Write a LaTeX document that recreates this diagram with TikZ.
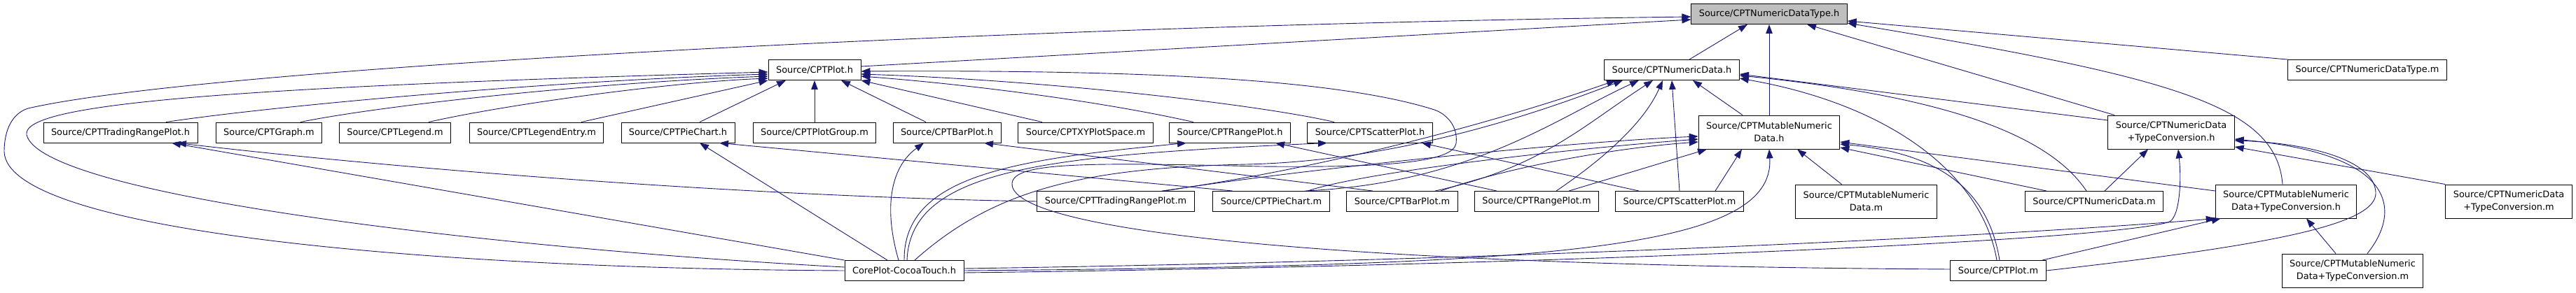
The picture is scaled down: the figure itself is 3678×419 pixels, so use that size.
\documentclass[tikz,border=0pt]{standalone}
\usepackage{fontspec}
\setmainfont{DejaVu Sans}
\usetikzlibrary{arrows.meta}
\definecolor{edgeblue}{RGB}{25,25,112}
\definecolor{rootgray}{RGB}{191,191,191}
\tikzset{
  filebox/.style={draw=black, line width=0.9pt, fill=white, align=center,
                  minimum height=29pt, inner xsep=11pt, inner ysep=0pt,
                  font=\fontsize{12.9}{18}\selectfont},
  twoline/.style={filebox, minimum height=48pt},
  rootbox/.style={filebox, fill=rootgray},
  incl/.style={-{Triangle[length=13pt,width=9.5pt]}, line width=0.9pt, draw=edgeblue},
}

\begin{document}
\begin{tikzpicture}[x=1pt, y=-1pt]
  \useasboundingbox (0,0) rectangle (3678,419);

  % the header itself
  \node[rootbox] (ntype) at (2526,20) {Source/CPTNumericDataType.h};

  % first row
  \node[filebox] (ploth) at (1163,100) {Source/CPTPlot.h};
  \node[filebox] (ndh) at (2387,100) {Source/CPTNumericData.h};
  \node[filebox] (ntypem) at (3380,100) {Source/CPTNumericDataType.m};

  % second row
  \node[filebox] (trph) at (172,189.5) {Source/CPTTradingRangePlot.h};
  \node[filebox] (graphm) at (384,189.5) {Source/CPTGraph.m};
  \node[filebox] (legendm) at (564,189.5) {Source/CPTLegend.m};
  \node[filebox] (entrym) at (766,189.5) {Source/CPTLegendEntry.m};
  \node[filebox] (pieh) at (968,189.5) {Source/CPTPieChart.h};
  \node[filebox] (groupm) at (1163,189.5) {Source/CPTPlotGroup.m};
  \node[filebox] (barh) at (1352,189.5) {Source/CPTBarPlot.h};
  \node[filebox] (spacem) at (1550,189.5) {Source/CPTXYPlotSpace.m};
  \node[filebox] (rangeh) at (1756,189.5) {Source/CPTRangePlot.h};
  \node[filebox] (scath) at (1956,189.5) {Source/CPTScatterPlot.h};
  \node[twoline] (mndh) at (2526,189) {Source/CPTMutableNumeric\\Data.h};
  \node[twoline] (ndtch) at (3100,189) {Source/CPTNumericData\\+TypeConversion.h};

  % third row
  \node[filebox] (trpm) at (1593,288) {Source/CPTTradingRangePlot.m};
  \node[filebox] (piem) at (1815,288) {Source/CPTPieChart.m};
  \node[filebox] (barm) at (2002,288) {Source/CPTBarPlot.m};
  \node[filebox] (rangem) at (2194,288) {Source/CPTRangePlot.m};
  \node[filebox] (scatm) at (2398,288) {Source/CPTScatterPlot.m};
  \node[twoline] (mndm) at (2664.5,288) {Source/CPTMutableNumeric\\Data.m};
  \node[filebox] (ndm) at (2990,288) {Source/CPTNumericData.m};
  \node[twoline] (mndtch) at (3264,288) {Source/CPTMutableNumeric\\Data+TypeConversion.h};
  \node[twoline] (ndtcm) at (3582,288) {Source/CPTNumericData\\+TypeConversion.m};

  % bottom row
  \node[filebox] (cocoa) at (1291,387) {CorePlot-CocoaTouch.h};
  \node[filebox] (plotm) at (2853,387) {Source/CPTPlot.m};
  \node[twoline] (mndtcm) at (3359,387) {Source/CPTMutableNumeric\\Data+TypeConversion.m};

  % into CPTNumericDataType.h
  \draw[incl] ([yshift=5pt]ploth.east) -- ([yshift=-8pt]ntype.west);
  \draw[incl] (cocoa.west) .. controls (600,384) and (10,330) .. (6,217)
      .. controls (6,185) and (18,162) .. (40,155)
      .. controls (300,95) and (1500,35) .. ([yshift=-4pt]ntype.west);
  \draw[incl] ([xshift=25pt]ndh.north) -- ([xshift=-31pt]ntype.south);
  \draw[incl] (mndh.north) -- (ntype.south);
  \draw[incl] ([xshift=-81pt]ndtch.north) -- ([xshift=54pt]ntype.south);
  \draw[incl] (ntypem.north west) -- ([yshift=-10pt]ntype.east);
  \draw[incl] ([xshift=-5pt]mndtch.north) .. controls (3250,150) and (3100,110) .. ([yshift=-13pt]ntype.east);

  % into CPTPlot.h
  \draw[incl] ([xshift=65pt]trph.north) .. controls (400,150) and (800,115) .. ([yshift=-6pt]ploth.west);
  \draw[incl] ([xshift=45pt]graphm.north) .. controls (550,150) and (850,118) .. ([yshift=-9pt]ploth.west);
  \draw[incl] ([xshift=48pt]legendm.north) .. controls (720,150) and (950,118) .. ([yshift=-12pt]ploth.west);
  \draw[incl] ([xshift=64pt]entrym.north) -- (ploth.south west);
  \draw[incl] ([xshift=31pt]pieh.north) -- ([xshift=-41pt]ploth.south);
  \draw[incl] (groupm.north) -- (ploth.south);
  \draw[incl] ([xshift=-30pt]barh.north) -- ([xshift=38pt]ploth.south);
  \draw[incl] ([xshift=-62pt]spacem.north) -- (ploth.south east);
  \draw[incl] ([xshift=-52pt]rangeh.north) .. controls (1550,140) and (1350,118) .. ([yshift=-9pt]ploth.east);
  \draw[incl] ([xshift=-51pt]scath.north) .. controls (1800,150) and (1500,115) .. ([yshift=-6pt]ploth.east);
  \draw[incl] ([yshift=5pt]cocoa.west) .. controls (700,355) and (60,280) .. (38,193)
      .. controls (30,150) and (300,125) .. ([yshift=-3pt]ploth.west);
  \draw[incl] ([yshift=2pt]plotm.west) .. controls (1900,380) and (1440,330) .. (1445,262)
      .. controls (1448,232) and (1550,232) .. (1800,238)
      .. controls (1980,240) and (2075,232) .. (2079,205)
      .. controls (2082,180) and (2065,163) .. (2048,157)
      .. controls (1900,110) and (1600,100) .. ([yshift=-2pt]ploth.east);

  % into the plot headers
  \draw[incl] (trpm.west) .. controls (1100,282) and (600,245) .. ([xshift=81pt]trph.south);
  \draw[incl] (cocoa.north west) -- ([xshift=73pt]trph.south);
  \draw[incl] ([xshift=-55pt]piem.north) -- ([xshift=59pt]pieh.south);
  \draw[incl] ([xshift=-24pt]cocoa.north) -- ([xshift=31pt]pieh.south);
  \draw[incl] ([xshift=-42pt]barm.north) -- ([xshift=53pt]barh.south);
  \draw[incl] ([xshift=-8pt]cocoa.north) .. controls (1262,300) and (1270,240) .. ([xshift=-33pt]barh.south);
  \draw[incl] ([xshift=-57pt]rangem.north) -- ([xshift=65pt]rangeh.south);
  \draw[incl] (cocoa.north) .. controls (1290,250) and (1450,228) .. ([xshift=-62pt]rangeh.south);
  \draw[incl] ([xshift=-58pt]scatm.north) -- ([xshift=74pt]scath.south);
  \draw[incl] ([xshift=4pt]cocoa.north) .. controls (1300,240) and (1500,222) .. ([xshift=-61pt]scath.south);

  % into CPTNumericData.h
  \draw[incl] ([xshift=-38pt]mndh.north) -- ([xshift=30pt]ndh.south);
  \draw[incl] (scatm.north) -- (ndh.south);
  \draw[incl] ([xshift=28pt]rangem.north) .. controls (2300,220) and (2350,170) .. ([xshift=-13pt]ndh.south);
  \draw[incl] ([xshift=47pt]barm.north) .. controls (2200,240) and (2260,180) .. ([xshift=-27pt]ndh.south);
  \draw[incl] ([xshift=48pt]piem.north) .. controls (2100,262) and (2220,170) .. ([xshift=-47pt]ndh.south);
  \draw[incl] ([xshift=66pt]trpm.north) .. controls (1900,240) and (2150,170) .. ([xshift=-80pt]ndh.south);
  \draw[incl] ([xshift=15pt]cocoa.north) .. controls (1420,270) and (1550,240) .. (1780,235)
      .. controls (2000,230) and (2200,160) .. ([xshift=-70pt]ndh.south);
  \draw[incl] ([yshift=17pt]ndtch.west) -- ([yshift=-6pt]ndh.east);
  \draw[incl] ([xshift=-11pt]ndm.north) .. controls (2930,200) and (2800,140) .. ([yshift=-8pt]ndh.east);
  \draw[incl] ([xshift=-2pt]plotm.north) .. controls (2830,250) and (2700,150) .. ([yshift=-12pt]ndh.east);

  % into CPTMutableNumericData.h
  \draw[incl] ([xshift=-35pt]mndm.north) -- ([xshift=40pt]mndh.south);
  \draw[incl] (cocoa.east) .. controls (2200,380) and (2535,360) .. (mndh.south);
  \draw[incl] ([xshift=51pt]scatm.north) -- ([xshift=-39pt]mndh.south);
  \draw[incl] ([xshift=46pt]rangem.north) -- ([xshift=-89pt]mndh.south);
  \draw[incl] ([xshift=55pt]barm.north) .. controls (2150,240) and (2300,212) .. ([yshift=-14pt]mndh.west);
  \draw[incl] ([xshift=52pt]piem.north) .. controls (1950,245) and (2250,212) .. ([yshift=-10pt]mndh.west);
  \draw[incl] ([xshift=70pt]trpm.north) .. controls (1800,250) and (2200,205) .. ([yshift=-6pt]mndh.west);
  \draw[incl] ([xshift=2pt]plotm.north) .. controls (2840,280) and (2780,220) .. ([yshift=-17pt]mndh.east);
  \draw[incl] ([xshift=-68pt]ndm.north) -- ([yshift=-22pt]mndh.east);
  \draw[incl] ([yshift=15pt]mndtch.west) -- ([yshift=-14pt]mndh.east);

  % into the type conversion headers
  \draw[incl] ([xshift=15pt]ndm.north) -- ([xshift=-33pt]ndtch.south);
  \draw[incl] ([yshift=-3pt]cocoa.east) .. controls (2200,380) and (3000,345) .. (3095,318)
      .. controls (3112,315) and (3115,260) .. ([xshift=10pt]ndtch.south);
  \draw[incl] (plotm.east) .. controls (3250,350) and (3395,320) .. (3392,275)
      .. controls (3390,230) and (3300,205) .. ([yshift=-12pt]ndtch.east);
  \draw[incl] ([xshift=21pt]mndtcm.north) .. controls (3430,300) and (3420,220) .. ([yshift=-10pt]ndtch.east);
  \draw[incl] (ndtcm.north west) -- ([yshift=-21pt]ndtch.east);
  \draw[incl] ([yshift=3pt]cocoa.east) .. controls (2200,372) and (2900,335) .. (mndtch.south west);
  \draw[incl] ([xshift=63pt]plotm.north) -- ([xshift=8pt]mndtch.south west);
  \draw[incl] ([xshift=-24pt]mndtcm.north) -- ([xshift=29pt]mndtch.south);
\end{tikzpicture}
\end{document}
